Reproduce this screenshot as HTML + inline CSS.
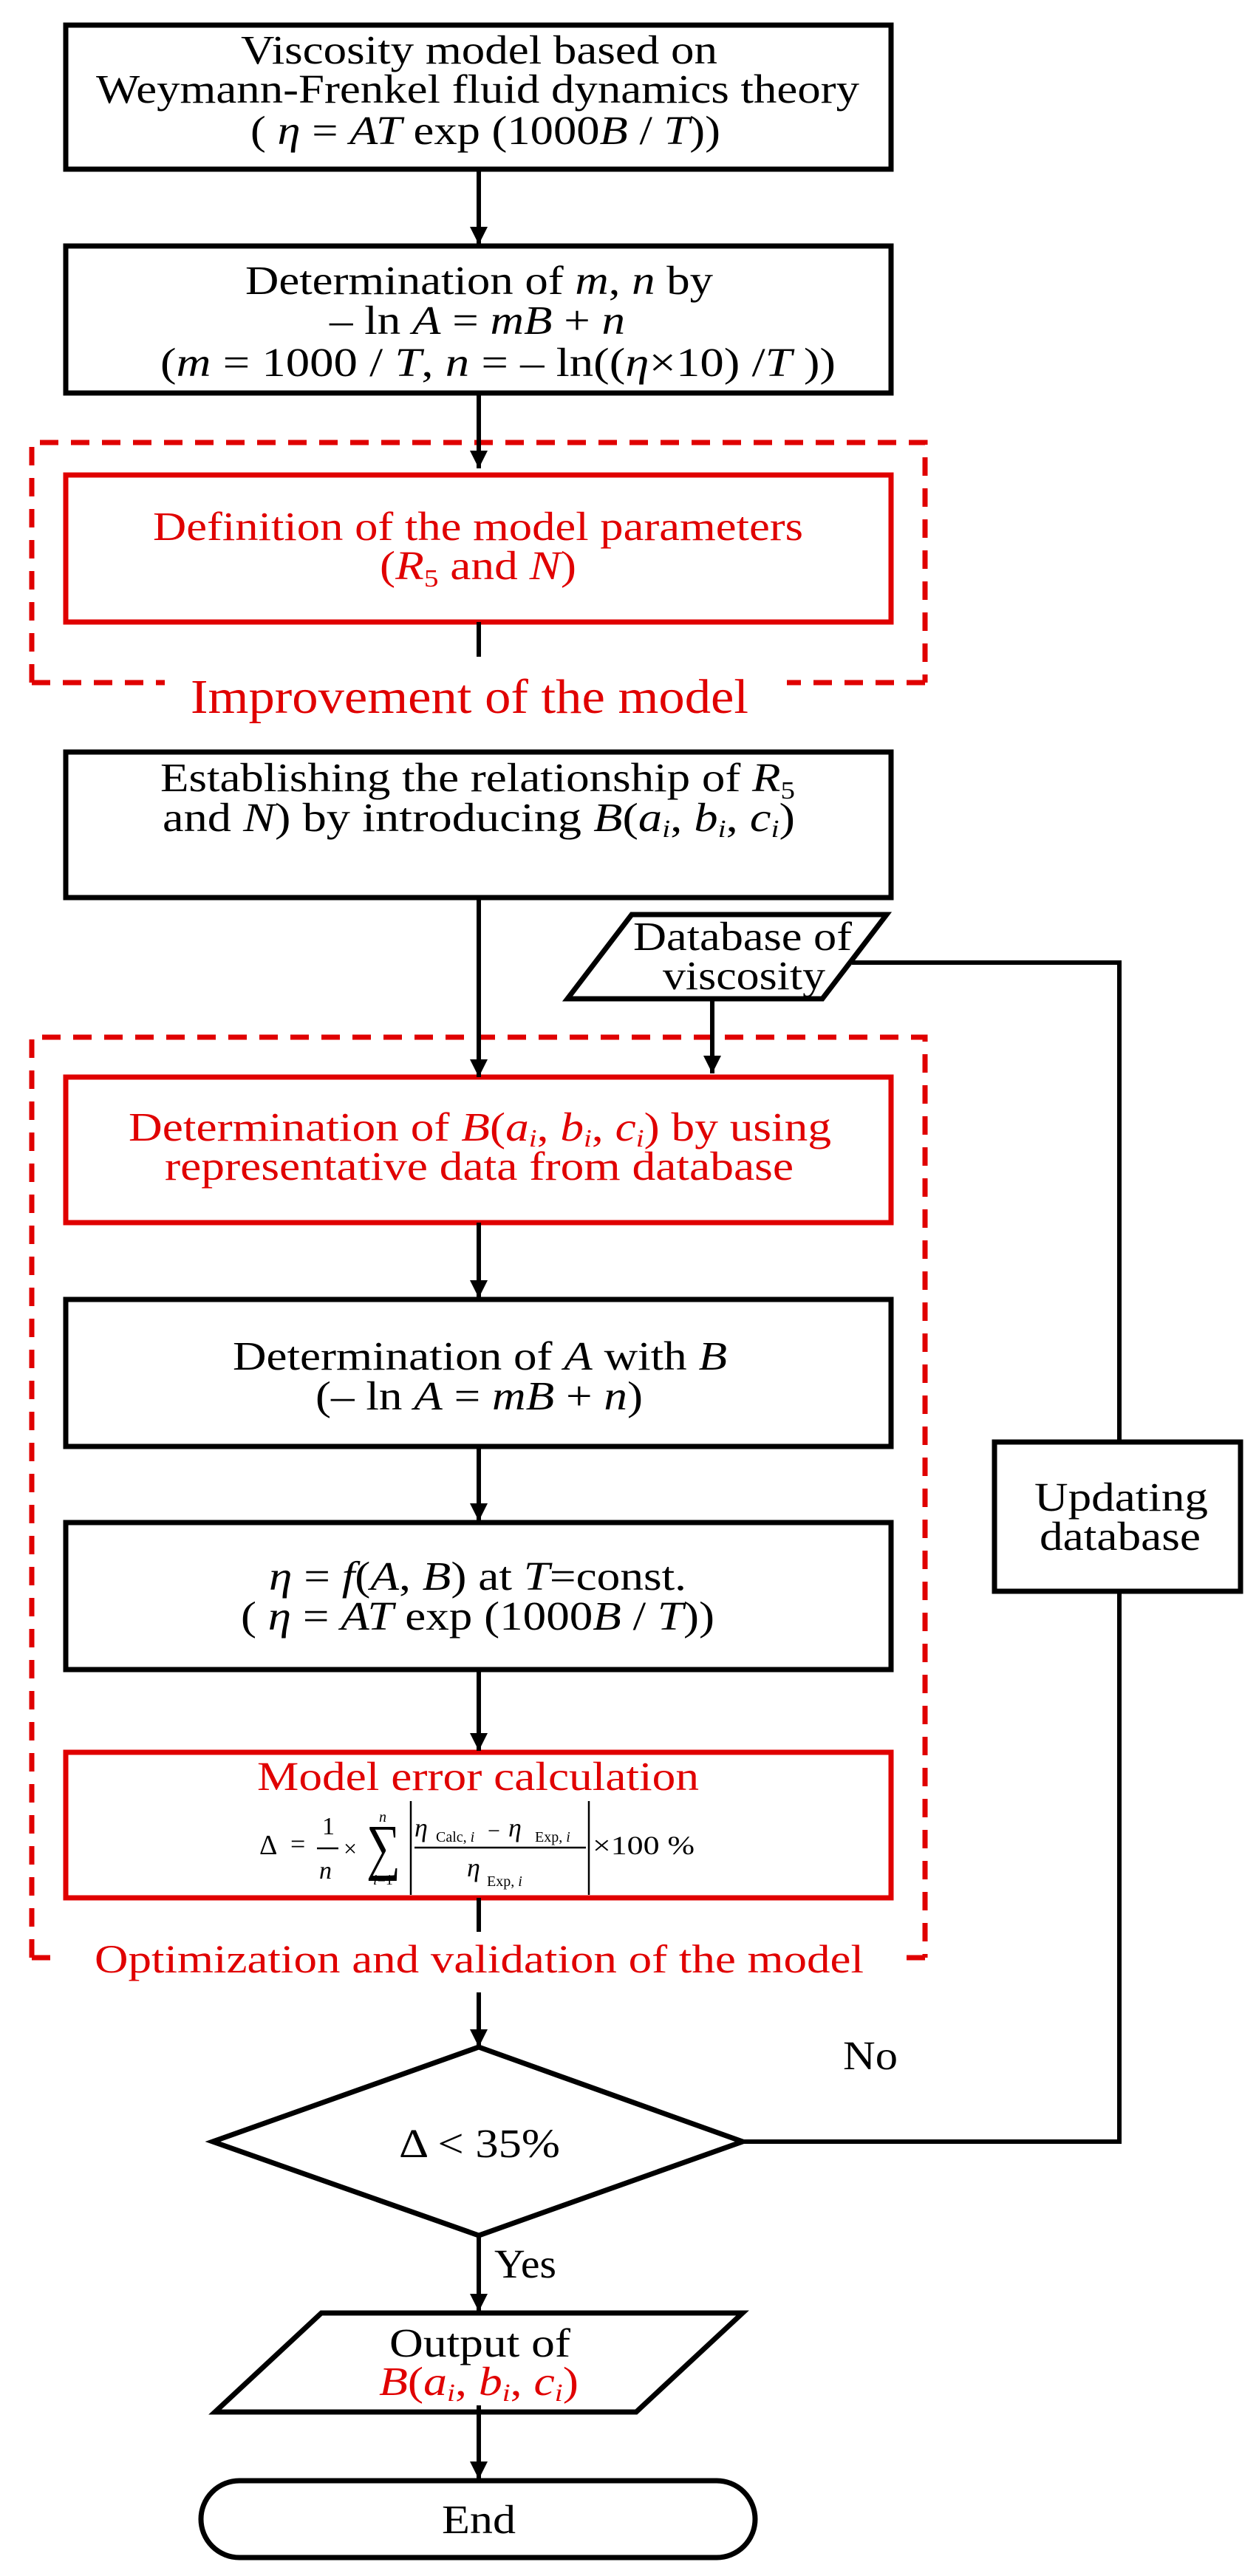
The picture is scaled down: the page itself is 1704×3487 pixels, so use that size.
<!DOCTYPE html>
<html><head><meta charset="utf-8"><style>
html,body{margin:0;padding:0;background:#fff;}
svg{display:block;}
text{font-family:"Liberation Serif",serif;}
</style></head><body>
<svg width="1704" height="3487" viewBox="0 0 1704 3487" xmlns="http://www.w3.org/2000/svg">
<defs>
<marker id="ah" markerWidth="26" markerHeight="24" refX="24" refY="12" orient="auto" markerUnits="userSpaceOnUse">
<path d="M0,0 L24,12 L0,24 Z" fill="#000"/>
</marker>
</defs>
<g fill="none" stroke="#000" stroke-width="7">
<rect x="89" y="34" width="1117" height="195"/>
<rect x="89" y="333" width="1117" height="199"/>
<rect x="89" y="1018" width="1117" height="197"/>
<rect x="89" y="1759" width="1117" height="199"/>
<rect x="89" y="2061" width="1117" height="199"/>
<rect x="1346" y="1952" width="333" height="202"/>
<polygon points="855,1238 1200,1238 1113,1352 768,1352"/>
<polygon points="648,2771 1005,2899 648,3026 288,2899"/>
<polygon points="435,3131 1005,3131 861,3265 291,3265"/>
<rect x="272" y="3358" width="750" height="104" rx="52" ry="52"/>
</g>
<g fill="none" stroke="#e00000" stroke-width="7">
<rect x="89" y="643" width="1117" height="199"/>
<rect x="89" y="1458" width="1117" height="197"/>
<rect x="89" y="2372" width="1117" height="197"/>
</g>
<g fill="none" stroke="#e00000" stroke-width="7" stroke-dasharray="25,17">
<path d="M43,924 L43,599 L1252,599 L1252,924"/>
<path d="M43,924 L223,924"/>
<path d="M1252,924 L1065,924"/>
<path d="M43,2650 L43,1404 L1252,1404 L1252,2650"/>
<path d="M43,2650 L82,2650"/>
<path d="M1252,2650 L1212,2650"/>
</g>
<g fill="none" stroke="#000" stroke-width="6">
<line x1="648" y1="229" x2="648" y2="331" marker-end="url(#ah)"/>
<line x1="648" y1="532" x2="648" y2="634" marker-end="url(#ah)"/>
<line x1="648" y1="842" x2="648" y2="889"/>
<line x1="648" y1="1215" x2="648" y2="1458" marker-end="url(#ah)"/>
<line x1="964" y1="1352" x2="964" y2="1453" marker-end="url(#ah)"/>
<line x1="648" y1="1655" x2="648" y2="1757" marker-end="url(#ah)"/>
<line x1="648" y1="1958" x2="648" y2="2059" marker-end="url(#ah)"/>
<line x1="648" y1="2260" x2="648" y2="2370" marker-end="url(#ah)"/>
<line x1="648" y1="2569" x2="648" y2="2615"/>
<line x1="648" y1="2697" x2="648" y2="2771" marker-end="url(#ah)"/>
<line x1="648" y1="3026" x2="648" y2="3129" marker-end="url(#ah)"/>
<line x1="648" y1="3256" x2="648" y2="3356" marker-end="url(#ah)"/>
<polyline points="1153,1303 1515,1303 1515,1952"/>
<polyline points="1515,2154 1515,2899 1005,2899"/>
</g>
<g font-size="55" fill="#000">
<text x="326" y="86" textLength="645" lengthAdjust="spacingAndGlyphs">Viscosity model based on</text>
<text x="130" y="139" textLength="1033" lengthAdjust="spacingAndGlyphs">Weymann-Frenkel fluid dynamics theory</text>
<text x="339" y="195" textLength="636" lengthAdjust="spacingAndGlyphs">( <tspan font-style="italic">η</tspan> = <tspan font-style="italic">AT</tspan> exp (1000<tspan font-style="italic">B</tspan> / <tspan font-style="italic">T</tspan>))</text>
<text x="332" y="398" textLength="633" lengthAdjust="spacingAndGlyphs">Determination of <tspan font-style="italic">m</tspan>, <tspan font-style="italic">n</tspan> by</text>
<text x="446" y="452" textLength="400" lengthAdjust="spacingAndGlyphs">– ln <tspan font-style="italic">A</tspan> = <tspan font-style="italic">mB</tspan> + <tspan font-style="italic">n</tspan></text>
<text x="217" y="509" textLength="914" lengthAdjust="spacingAndGlyphs">(<tspan font-style="italic">m</tspan> = 1000 / <tspan font-style="italic">T</tspan>, <tspan font-style="italic">n</tspan> = – ln((<tspan font-style="italic">η</tspan>×10) /<tspan font-style="italic">T</tspan> ))</text>
<text x="217" y="1071" textLength="859" lengthAdjust="spacingAndGlyphs">Establishing the relationship of <tspan font-style="italic">R</tspan><tspan font-size="34" dy="10">5</tspan></text>
<text x="220" y="1125" textLength="856" lengthAdjust="spacingAndGlyphs">and <tspan font-style="italic">N</tspan>) by introducing  <tspan font-style="italic">B</tspan>(<tspan font-style="italic">a</tspan><tspan font-style="italic" font-size="34" dy="8">i</tspan><tspan dy="-8">, </tspan><tspan font-style="italic">b</tspan><tspan font-style="italic" font-size="34" dy="8">i</tspan><tspan dy="-8">, </tspan><tspan font-style="italic">c</tspan><tspan font-style="italic" font-size="34" dy="8">i</tspan><tspan dy="-8">)</tspan></text>
<text x="857" y="1286" textLength="296" lengthAdjust="spacingAndGlyphs">Database of</text>
<text x="897" y="1339" textLength="220" lengthAdjust="spacingAndGlyphs">viscosity</text>
<text x="315" y="1854" textLength="669" lengthAdjust="spacingAndGlyphs">Determination of <tspan font-style="italic">A</tspan> with <tspan font-style="italic">B</tspan></text>
<text x="427" y="1908" textLength="443" lengthAdjust="spacingAndGlyphs">(– ln <tspan font-style="italic">A</tspan> = <tspan font-style="italic">mB</tspan> + <tspan font-style="italic">n</tspan>)</text>
<text x="364" y="2152" textLength="565" lengthAdjust="spacingAndGlyphs"><tspan font-style="italic">η</tspan> = <tspan font-style="italic">f</tspan>(<tspan font-style="italic">A</tspan>, <tspan font-style="italic">B</tspan>) at <tspan font-style="italic">T</tspan>=const.</text>
<text x="326" y="2206" textLength="641" lengthAdjust="spacingAndGlyphs">( <tspan font-style="italic">η</tspan> = <tspan font-style="italic">AT</tspan> exp (1000<tspan font-style="italic">B</tspan> / <tspan font-style="italic">T</tspan>))</text>
<text x="1400" y="2045" textLength="235" lengthAdjust="spacingAndGlyphs">Updating</text>
<text x="1407" y="2098" textLength="218" lengthAdjust="spacingAndGlyphs">database</text>
<text x="540" y="2920" textLength="218" lengthAdjust="spacingAndGlyphs">Δ &lt; 35%</text>
<text x="1141" y="2801" textLength="74" lengthAdjust="spacingAndGlyphs">No</text>
<text x="669" y="3083" textLength="84" lengthAdjust="spacingAndGlyphs">Yes</text>
<text x="527" y="3190" textLength="245" lengthAdjust="spacingAndGlyphs">Output of</text>
<text x="598" y="3429" textLength="100" lengthAdjust="spacingAndGlyphs">End</text>
</g>
<g font-size="55" fill="#e00000">
<text x="207" y="731" textLength="880" lengthAdjust="spacingAndGlyphs">Definition of the model parameters</text>
<text x="514" y="784" textLength="266" lengthAdjust="spacingAndGlyphs">(<tspan font-style="italic">R</tspan><tspan font-size="34" dy="10">5</tspan><tspan dy="-10"> and </tspan><tspan font-style="italic">N</tspan>)</text>
<text x="258" y="965" font-size="66" textLength="755" lengthAdjust="spacingAndGlyphs">Improvement of the model</text>
<text x="174" y="1544" textLength="951" lengthAdjust="spacingAndGlyphs">Determination of <tspan font-style="italic">B</tspan>(<tspan font-style="italic">a</tspan><tspan font-style="italic" font-size="34" dy="8">i</tspan><tspan dy="-8">, </tspan><tspan font-style="italic">b</tspan><tspan font-style="italic" font-size="34" dy="8">i</tspan><tspan dy="-8">, </tspan><tspan font-style="italic">c</tspan><tspan font-style="italic" font-size="34" dy="8">i</tspan><tspan dy="-8">) by using</tspan></text>
<text x="223" y="1597" textLength="851" lengthAdjust="spacingAndGlyphs">representative data from database</text>
<text x="348" y="2423" textLength="598" lengthAdjust="spacingAndGlyphs">Model error calculation</text>
<text x="128" y="2670" font-size="54" textLength="1041" lengthAdjust="spacingAndGlyphs">Optimization and validation of the model</text>
<text x="513" y="3242" textLength="270" lengthAdjust="spacingAndGlyphs"><tspan font-style="italic">B</tspan>(<tspan font-style="italic">a</tspan><tspan font-style="italic" font-size="34" dy="8">i</tspan><tspan dy="-8">, </tspan><tspan font-style="italic">b</tspan><tspan font-style="italic" font-size="34" dy="8">i</tspan><tspan dy="-8">, </tspan><tspan font-style="italic">c</tspan><tspan font-style="italic" font-size="34" dy="8">i</tspan><tspan dy="-8">)</tspan></text>
</g>
<g fill="#000">
<text x="351" y="2510" font-size="38">Δ</text>
<text x="393" y="2508" font-size="36">=</text>
<text x="436" y="2483" font-size="34">1</text>
<line x1="429" y1="2502" x2="458" y2="2502" stroke="#000" stroke-width="2.5"/>
<text x="432" y="2543" font-size="34" font-style="italic">n</text>
<text x="465" y="2513" font-size="32">×</text>
<text x="496" y="2528" font-size="84" textLength="46" lengthAdjust="spacingAndGlyphs">∑</text>
<text x="513" y="2466" font-size="20" font-style="italic">n</text>
<text x="505" y="2551" font-size="20"><tspan font-style="italic">i</tspan>=1</text>
<line x1="556" y1="2438" x2="556" y2="2565" stroke="#000" stroke-width="2.5"/>
<line x1="797" y1="2438" x2="797" y2="2565" stroke="#000" stroke-width="2.5"/>
<line x1="561" y1="2501" x2="793" y2="2501" stroke="#000" stroke-width="2.5"/>
<text x="561" y="2486" font-size="36" font-style="italic">η</text>
<text x="590" y="2493" font-size="20">Calc, <tspan font-style="italic">i</tspan></text>
<text x="660" y="2488" font-size="30">−</text>
<text x="688" y="2486" font-size="36" font-style="italic">η</text>
<text x="724" y="2493" font-size="20">Exp, <tspan font-style="italic">i</tspan></text>
<text x="632" y="2540" font-size="36" font-style="italic">η</text>
<text x="659" y="2553" font-size="20">Exp, <tspan font-style="italic">i</tspan></text>
<text x="802" y="2510" font-size="36" textLength="138" lengthAdjust="spacingAndGlyphs">×100 %</text>
</g>
</svg>
</body></html>
